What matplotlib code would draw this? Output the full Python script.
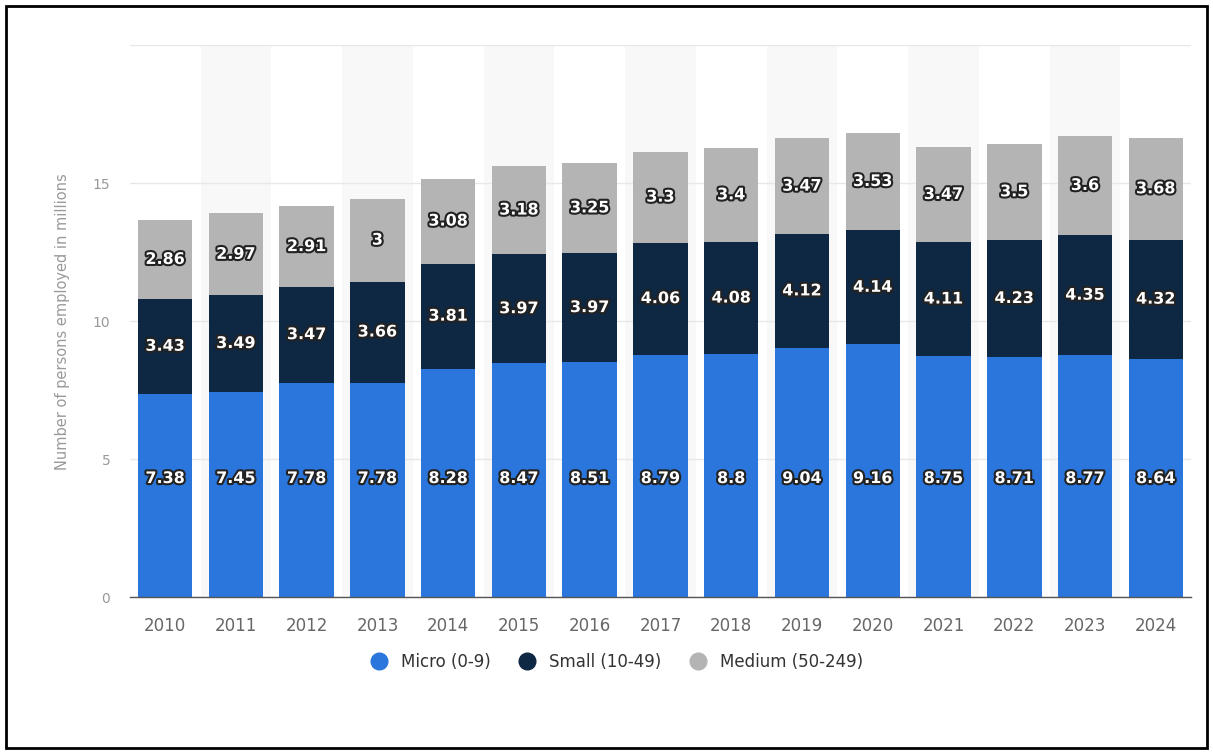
import matplotlib
matplotlib.use("Agg")
import matplotlib.pyplot as plt
import matplotlib.patheffects as pe
from matplotlib.patches import Rectangle
import numpy as np

years = ["2010", "2011", "2012", "2013", "2014", "2015", "2016", "2017",
         "2018", "2019", "2020", "2021", "2022", "2023", "2024"]
micro = [7.38, 7.45, 7.78, 7.78, 8.28, 8.47, 8.51, 8.79, 8.8, 9.04, 9.16, 8.75, 8.71, 8.77, 8.64]
small = [3.43, 3.49, 3.47, 3.66, 3.81, 3.97, 3.97, 4.06, 4.08, 4.12, 4.14, 4.11, 4.23, 4.35, 4.32]
medium = [2.86, 2.97, 2.91, 3, 3.08, 3.18, 3.25, 3.3, 3.4, 3.47, 3.53, 3.47, 3.5, 3.6, 3.68]
series_names = ["Micro (0-9)", "Small (10-49)", "Medium (50-249)"]
colors = ["#2b76dc", "#0e2742", "#b4b4b4"]

plt.rc('font', family='DejaVu Sans')

fig = plt.figure(figsize=(12.13, 7.55), dpi=100)
ax = fig.add_axes([0.107, 0.209, 0.875, 0.731])

x = np.arange(len(years))
micro_a = np.array(micro)
small_a = np.array(small)
medium_a = np.array(medium)

# alternating column bands
for i in x[1::2]:
    ax.axvspan(i - 0.5, i + 0.5, color="#f8f8f8", zorder=0, lw=0)

width = 0.77
ax.bar(x, micro_a, width, color=colors[0], zorder=2, label=series_names[0])
ax.bar(x, small_a, width, bottom=micro_a, color=colors[1], zorder=2, label=series_names[1])
ax.bar(x, medium_a, width, bottom=micro_a + small_a, color=colors[2], zorder=2, label=series_names[2])

stroke = [pe.withStroke(linewidth=3, foreground="#222222")]
lab_kw = dict(ha="center", va="center", color="white", fontsize=11.5,
              fontweight="bold", zorder=3, path_effects=stroke)

def fmt(v):
    return ("%g" % v)

for i in x:
    ax.text(i, 4.3, fmt(micro_a[i]), **lab_kw)
    ax.text(i, micro_a[i] + small_a[i] / 2, fmt(small_a[i]), **lab_kw)
    ax.text(i, micro_a[i] + small_a[i] + medium_a[i] / 2, fmt(medium_a[i]), **lab_kw)

ax.set_xlim(-0.5, len(years) - 0.5)
ax.set_ylim(0, 20)
ax.set_yticks([0, 5, 10, 15, 20])
ax.set_yticklabels(["0", "5", "10", "15", ""])
ax.set_xticks(x)
ax.set_xticklabels(years)
ax.grid(axis="y", color="#e8e8e8", linewidth=1, zorder=1)
ax.set_axisbelow(True)
for s in ["top", "right", "left"]:
    ax.spines[s].set_visible(False)
ax.spines["bottom"].set_color("#555555")
ax.spines["bottom"].set_linewidth(1)
ax.tick_params(axis="y", length=0, colors="#999999", labelsize=10, pad=14)
ax.tick_params(axis="x", length=0, colors="#666666", labelsize=12, pad=14)
ax.set_ylabel("Number of persons employed in millions", color="#999999", fontsize=10.5, labelpad=16)

handles = [plt.Line2D([], [], marker="o", linestyle="", markersize=12, color=c) for c in colors]
fig.legend(handles, series_names, loc="center", bbox_to_anchor=(0.505, 0.123), ncol=3,
           frameon=False, fontsize=12, handletextpad=0.3, columnspacing=1.2,
           labelcolor="#333333")

# figure border
fig.patches.append(Rectangle((0.005, 0.009), 0.99, 0.983, transform=fig.transFigure,
                             fill=False, edgecolor="black", linewidth=2))

fig.savefig("out.png", dpi=100)
